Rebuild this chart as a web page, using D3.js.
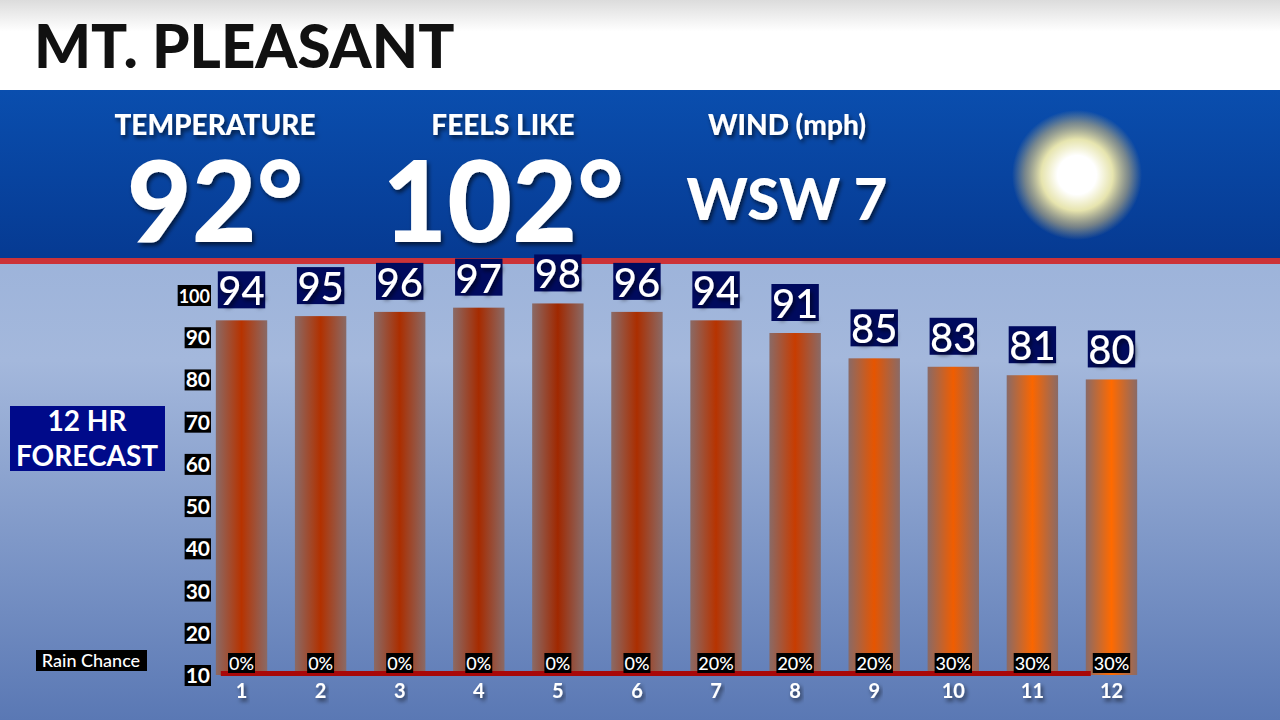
<!DOCTYPE html>
<html><head><meta charset="utf-8">
<script src="https://cdn.jsdelivr.net/npm/d3@7"></script>
<style>body{margin:0;overflow:hidden}svg{display:block;font-family:Lato,sans-serif}</style>
</head><body>
<script>
// data
var hours = [1,2,3,4,5,6,7,8,9,10,11,12];
var temps = [94,95,96,97,98,96,94,91,85,83,81,80];
var rain = ["0%","0%","0%","0%","0%","0%","20%","20%","20%","30%","30%","30%"];
var yTicks = [10,20,30,40,50,60,70,80,90,100];
var current = [
	{label:"TEMPERATURE", value:"92°", x:215, size:112},
	{label:"FEELS LIKE", value:"102°", x:503, size:112},
	{label:"WIND (mph)", value:"WSW 7", x:787, size:58}
];

var W = 1280, H = 720;
var svg = d3.select("body").append("svg").attr("width", W).attr("height", H);
var defs = svg.append("defs");

function lin(id, stops, vertical) {
	var g = defs.append("linearGradient").attr("id", id)
		.attr("x1", 0).attr("y1", 0).attr("x2", vertical ? 0 : 1).attr("y2", vertical ? 1 : 0);
	stops.forEach(function(s) { g.append("stop").attr("offset", s[0]).attr("stop-color", s[1]); });
}
lin("hdr", [[0,"#dcdcdc"],[0.35,"#ffffff"],[1,"#ffffff"]], true);
lin("band", [[0,"#0a4eae"],[1,"#063a92"]], true);
lin("bg", [[0,"#8ba8d6"],[0.5,"#a4b8dc"],[1,"#5a78b4"]], true);

var sun = defs.append("radialGradient").attr("id", "sun");
[[0,"#ffffff",1],[0.3,"#ffffff",1],[0.55,"#fff6b0",0.9],[0.8,"#e8c878",0.5],[1,"#e8c878",0]].forEach(function(s) {
	sun.append("stop").attr("offset", s[0]).attr("stop-color", s[1]).attr("stop-opacity", s[2]);
});
var shadow = defs.append("filter").attr("id", "sh").attr("x", "-20%").attr("y", "-20%").attr("width", "140%").attr("height", "140%");
shadow.append("feDropShadow").attr("dx", 2).attr("dy", 3).attr("stdDeviation", 2).attr("flood-color", "#000").attr("flood-opacity", 0.6);

// background
svg.append("rect").attr("width", W).attr("height", H).attr("fill", "url(#bg)");
svg.append("rect").attr("width", W).attr("height", 90).attr("fill", "url(#hdr)");
svg.append("rect").attr("y", 90).attr("width", W).attr("height", 168).attr("fill", "url(#band)");
svg.append("rect").attr("y", 258).attr("width", W).attr("height", 6).attr("fill", "#cc3338");

svg.append("text").attr("x", 34).attr("y", 68).attr("font-size", 60).attr("font-weight", 900)
	.attr("fill", "#111").text("MT. PLEASANT");

// current conditions
var cur = svg.selectAll(".cur").data(current).enter().append("g");
cur.append("text").attr("x", function(d) { return d.x; }).attr("y", 135).attr("text-anchor", "middle")
	.attr("font-size", 28).attr("font-weight", 900).attr("fill", "#fff").attr("filter", "url(#sh)")
	.text(function(d) { return d.label; });
cur.append("text").attr("x", function(d) { return d.x; }).attr("y", function(d) { return d.size > 60 ? 242 : 220; })
	.attr("text-anchor", "middle").attr("font-size", function(d) { return d.size; }).attr("font-weight", 900)
	.attr("fill", "#fff").attr("filter", "url(#sh)").text(function(d) { return d.value; });

svg.append("circle").attr("cx", 1077).attr("cy", 175).attr("r", 65).attr("fill", "url(#sun)");

// scales
var x = d3.scaleBand().domain(hours).range([200, 1153]).paddingInner(0.35).paddingOuter(0.2);
var y = d3.scaleLinear().domain([10, 100]).range([675, 295]);
var col = d3.scaleLinear().domain([80, 91, 98]).range(["#ff6a00", "#c83c00", "#a02800"]);

hours.forEach(function(h, i) {
	var g = defs.append("linearGradient").attr("id", "bar" + i);
	var c = col(temps[i]);
	[[0,"#8a6a66"],[0.5,c],[1,"#8a6a66"]].forEach(function(s) {
		g.append("stop").attr("offset", s[0]).attr("stop-color", s[1]);
	});
});

var bars = svg.selectAll(".bar").data(temps).enter().append("g");
bars.append("rect")
	.attr("x", function(d, i) { return x(hours[i]); })
	.attr("y", function(d) { return y(d); })
	.attr("width", x.bandwidth())
	.attr("height", function(d) { return y(10) - y(d); })
	.attr("fill", function(d, i) { return "url(#bar" + i + ")"; });
bars.append("rect")
	.attr("x", function(d, i) { return x(hours[i]) + 2; })
	.attr("y", function(d) { return y(d) - 49; })
	.attr("width", x.bandwidth() - 4).attr("height", 37)
	.attr("fill", "#000a5e");
bars.append("text")
	.attr("x", function(d, i) { return x(hours[i]) + x.bandwidth() / 2; })
	.attr("y", function(d) { return y(d) - 15; })
	.attr("text-anchor", "middle").attr("font-size", 40).attr("font-weight", 500)
	.attr("fill", "#fff").attr("filter", "url(#sh)").text(function(d) { return d; });

// baseline
svg.append("rect").attr("x", x(1) + 5).attr("y", 671).attr("width", x(12) - x(1)).attr("height", 5).attr("fill", "#a80808");

// rain chance
var rg = svg.selectAll(".rain").data(rain).enter().append("g");
rg.each(function(d, i) {
	var g = d3.select(this), cx = x(hours[i]) + x.bandwidth() / 2;
	var t = g.append("text").attr("x", cx).attr("y", 670).attr("text-anchor", "middle")
		.attr("font-size", 18).attr("font-weight", 500).attr("fill", "#fff").text(d);
	var b = t.node().getBBox();
	g.insert("rect", "text").attr("x", b.x - 1).attr("y", 653).attr("width", b.width + 2).attr("height", 20).attr("fill", "#000");
});

// x labels
svg.selectAll(".xl").data(hours).enter().append("text")
	.attr("x", function(d) { return x(d) + x.bandwidth() / 2; }).attr("y", 698)
	.attr("text-anchor", "middle").attr("font-size", 20).attr("font-weight", 700)
	.attr("fill", "#fff").attr("filter", "url(#sh)").text(function(d) { return d; });

// y ticks
svg.selectAll(".yt").data(yTicks).enter().append("g").each(function(d) {
	var g = d3.select(this);
	var t = g.append("text").attr("x", 210).attr("y", y(d) + 8).attr("text-anchor", "end")
		.attr("font-size", d === 100 ? 18 : 21).attr("font-weight", 700).attr("fill", "#fff").text(d);
	var b = t.node().getBBox();
	g.insert("rect", "text").attr("x", b.x - 1).attr("y", y(d) - 10).attr("width", b.width + 2).attr("height", 21).attr("fill", "#000");
});

// side labels
svg.append("rect").attr("x", 10).attr("y", 406).attr("width", 155).attr("height", 65).attr("fill", "#000a8a");
svg.append("text").attr("x", 87).attr("y", 431).attr("text-anchor", "middle").attr("font-size", 28).attr("font-weight", 700).attr("fill", "#fff").text("12 HR");
svg.append("text").attr("x", 87).attr("y", 466).attr("text-anchor", "middle").attr("font-size", 28).attr("font-weight", 700).attr("fill", "#fff").text("FORECAST");
svg.append("rect").attr("x", 36).attr("y", 650).attr("width", 111).attr("height", 21).attr("fill", "#000");
svg.append("text").attr("x", 91).attr("y", 667).attr("text-anchor", "middle").attr("font-size", 18).attr("font-weight", 500).attr("fill", "#fff").text("Rain Chance");
</script>
</body></html>
